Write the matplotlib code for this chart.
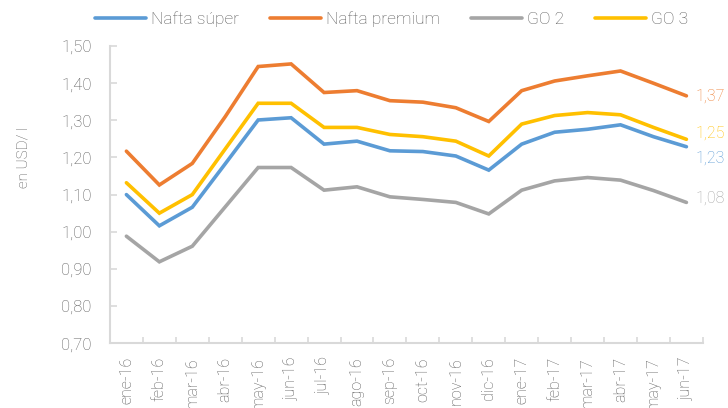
import matplotlib.pyplot as plt
import numpy as np
from matplotlib.ticker import FuncFormatter, MultipleLocator, FixedLocator

meses = ["ene-16", "feb-16", "mar-16", "abr-16", "may-16", "jun-16", "jul-16",
         "ago-16", "sep-16", "oct-16", "nov-16", "dic-16", "ene-17", "feb-17",
         "mar-17", "abr-17", "may-17", "jun-17"]

nafta_super = [1.10, 1.016, 1.066, 1.183, 1.301, 1.307, 1.236, 1.244, 1.218,
               1.216, 1.204, 1.166, 1.236, 1.268, 1.276, 1.288, 1.256, 1.229]
nafta_premium = [1.217, 1.126, 1.184, 1.31, 1.445, 1.452, 1.375, 1.380, 1.353,
                 1.349, 1.334, 1.297, 1.380, 1.406, 1.420, 1.433, 1.400, 1.366]
go2 = [0.988, 0.919, 0.961, 1.067, 1.173, 1.173, 1.112, 1.121, 1.094,
       1.087, 1.079, 1.048, 1.112, 1.137, 1.146, 1.139, 1.111, 1.079]
go3 = [1.132, 1.05, 1.10, 1.223, 1.346, 1.346, 1.281, 1.281, 1.262,
       1.256, 1.244, 1.204, 1.29, 1.313, 1.321, 1.315, 1.281, 1.249]

# (nombre, valores, color, desplazamiento vertical de la etiqueta final en pt)
series = [("Nafta súper", nafta_super, "#5B9BD5", -8),
          ("Nafta premium", nafta_premium, "#ED7D31", 0),
          ("GO 2", go2, "#A5A5A5", 3),
          ("GO 3", go3, "#FFC000", 4.5)]

plt.rcParams['font.family'] = ['Roboto', 'DejaVu Sans']
txt = "#595959"
eje = "#D9D9D9"

fig = plt.figure(figsize=(7.28, 4.08), dpi=100)
ax = fig.add_axes([0.151, 0.159, 0.8145, 0.728])

x = np.arange(len(meses))
for nombre, vals, c, dy in series:
    ax.plot(x, vals, color=c, lw=2.6, label=nombre, solid_capstyle="round",
            solid_joinstyle="miter")
    ax.annotate(f"{vals[-1]:.2f}".replace(".", ","), (x[-1], vals[-1]),
                xytext=(6.5, dy), textcoords="offset points", color=c,
                fontsize=11.5, va="center", ha="left", fontweight="light",
                annotation_clip=False)

ax.set_xlim(-0.5, len(meses) - 0.5)
ax.set_ylim(0.70, 1.50)
ax.yaxis.set_major_locator(MultipleLocator(0.10))
ax.yaxis.set_major_formatter(FuncFormatter(lambda v, p: f"{v:.2f}".replace(".", ",")))
ax.set_xticks(x)
ax.set_xticklabels(meses, rotation=90, fontsize=11.5, color=txt, fontweight="light")
ax.xaxis.set_minor_locator(FixedLocator(np.arange(-0.5, len(meses), 1.0)))
ax.tick_params(axis="x", which="major", length=0, pad=10)
ax.tick_params(axis="x", which="minor", direction="in", length=4, color=eje, width=1.2)
ax.tick_params(axis="y", direction="in", length=5, color=eje, width=1.2,
               labelsize=12, labelcolor=txt, pad=13)
for lab in ax.get_yticklabels():
    lab.set_fontweight("light")

for s in ["top", "right"]:
    ax.spines[s].set_visible(False)
for s in ["left", "bottom"]:
    ax.spines[s].set_color(eje)
    ax.spines[s].set_linewidth(1.5)

fig.text(0.032, 0.615, "en USD/ l", rotation=90, fontsize=11, color=txt,
         ha="center", va="center", fontweight="light")

fig.legend(loc="center", bbox_to_anchor=(0.538, 0.953), ncol=4, frameon=False,
           handlelength=2.9, handletextpad=0.3, columnspacing=1.8,
           prop={"weight": "light", "size": 12.5}, labelcolor=txt)

fig.savefig("out.png", dpi=100)
